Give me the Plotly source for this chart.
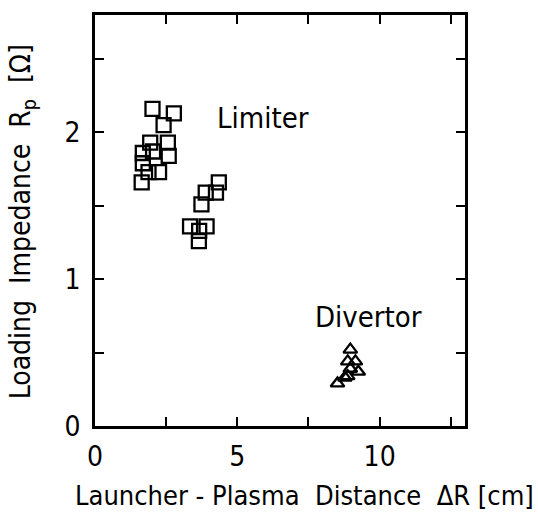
import plotly.graph_objects as go

# Limiter (squares)
lim_x = [2.02, 2.77, 2.41, 1.94, 2.56, 1.68, 2.04, 2.59, 1.68, 1.88, 2.25, 1.64,
         4.35, 4.25, 3.89, 3.74, 3.34, 3.92, 3.66, 3.65]
lim_y = [2.16, 2.13, 2.05, 1.93, 1.93, 1.86, 1.87, 1.84, 1.79, 1.73, 1.73, 1.66,
         1.66, 1.59, 1.59, 1.51, 1.36, 1.36, 1.33, 1.26]

# Divertor (triangles)
div_x = [8.97, 8.88, 9.15, 8.97, 9.25, 8.88, 8.78, 8.52]
div_y = [0.52, 0.44, 0.44, 0.39, 0.37, 0.34, 0.33, 0.29]

x_major = [0, 5, 10]
x_minor = [2.5, 7.5, 12.5]
y_major = [0, 1, 2]
y_minor = [0.5, 1.5, 2.5]

labels = [("Limiter", 5.9, 2.1), ("Divertor", 9.6, 0.74)]
x_title = "Launcher - Plasma  Distance  ΔR [cm]"
y_title = "Loading  Impedance  R<sub>p</sub>  [Ω]"

FONT = "DejaVu Sans Condensed, DejaVu Sans, sans-serif"

fig = go.Figure()
fig.add_trace(go.Scatter(
    x=lim_x, y=lim_y, mode="markers",
    marker=dict(symbol="square-open", size=14, color="black", line=dict(width=2.3)),
    showlegend=False))
fig.add_trace(go.Scatter(
    x=div_x, y=div_y, mode="markers",
    marker=dict(symbol="triangle-up-open", size=12, color="black", line=dict(width=2.3)),
    showlegend=False))

for text, lx, ly in labels:
    fig.add_annotation(x=lx, y=ly, text=text, showarrow=False,
                       font=dict(family=FONT, size=29, color="black"))

fig.add_annotation(x=0.567, y=-0.168, xref="paper", yref="paper", text=x_title,
                   showarrow=False, xanchor="center", yanchor="middle",
                   font=dict(family=FONT, size=27, color="black"))
fig.add_annotation(x=-0.197, y=0.496, xref="paper", yref="paper", text=y_title,
                   showarrow=False, xanchor="center", yanchor="middle", textangle=-90,
                   font=dict(family=FONT, size=28, color="black"))

axis_common = dict(
    showgrid=False, zeroline=False, showline=True, linecolor="black", linewidth=2.5,
    mirror="allticks", ticks="inside", ticklen=9, tickwidth=2, tickcolor="black",
    tickfont=dict(family=FONT, size=28, color="black"),
)

fig.update_xaxes(range=[0, 13], tickmode="array", tickvals=x_major, ticklabelstandoff=4,
                 minor=dict(tickvals=x_minor, ticks="inside", ticklen=9, tickwidth=2,
                            tickcolor="black", showgrid=False),
                 **axis_common)
fig.update_yaxes(range=[0, 2.8], tickmode="array", tickvals=y_major, ticklabelstandoff=6,
                 minor=dict(tickvals=y_minor, ticks="inside", ticklen=9, tickwidth=2,
                            tickcolor="black", showgrid=False),
                 **axis_common)

fig.update_layout(
    width=538, height=518,
    margin=dict(l=95, r=73, t=15, b=92),
    plot_bgcolor="white", paper_bgcolor="white",
)

fig.write_html("out.html")
